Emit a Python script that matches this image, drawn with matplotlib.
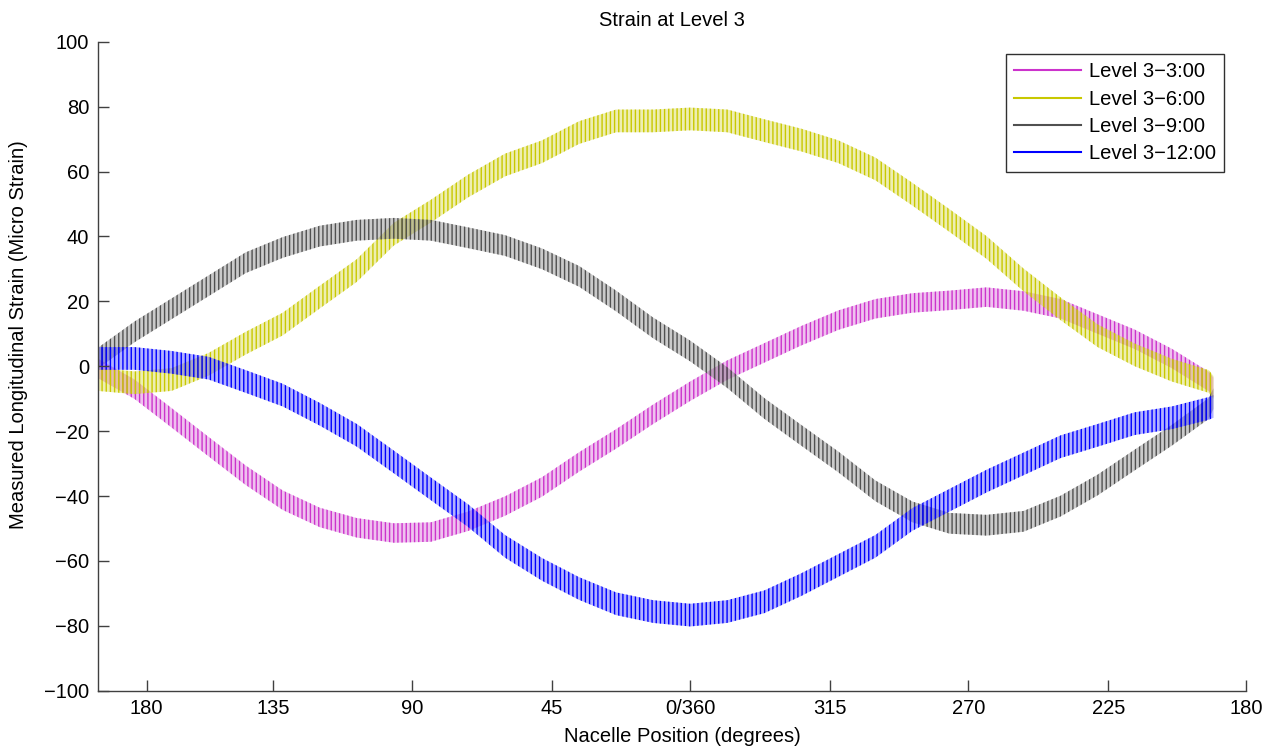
import numpy as np
import matplotlib
matplotlib.use('Agg')
import matplotlib.pyplot as plt
from matplotlib.lines import Line2D

plt.rcParams['font.family'] = ['Liberation Sans', 'DejaVu Sans']
plt.rcParams['hatch.linewidth'] = 1.0

# Rotation travelled since start of the run (deg), one reading every 12 deg
rot = [0, 12, 24, 36, 48, 60, 72, 84, 96, 108, 120, 132, 144, 156, 168, 180,
       192, 204, 216, 228, 240, 252, 264, 276, 288, 300, 312, 324, 336, 348, 360, 361.5]

# Mean strain of each gauge (micro strain)
level_3_00 = [-0.6, -7.1, -15.9, -24.8, -33.6, -41.3, -46.6, -49.8, -51.4, -51.1,
              -47.8, -43.1, -37.2, -29.5, -22.4, -14.8, -7.7, -1.2, 4.1, 9.4,
              14.2, 17.7, 19.5, 20.3, 21.3, 20.1, 17.7, 13.0, 8.3, 2.4, -4.7, -6.5]
level_6_00 = [-4.1, -5.1, -4.1, 0.6, 7.1, 13.0, 21.3, 29.5, 40.7, 47.8,
              55.5, 62.0, 66.1, 72.0, 75.6, 75.6, 76.2, 75.6, 72.6, 69.7,
              66.1, 60.8, 53.0, 44.9, 36.6, 26.6, 17.7, 9.4, 3.5, -1.2, -4.7, -6.5]
level_9_00 = [2.4, 10.6, 17.7, 24.8, 31.9, 36.6, 40.1, 41.9, 42.5, 41.9,
              39.6, 37.2, 33.1, 27.7, 20.1, 11.8, 4.7, -3.5, -13.0, -21.3,
              -29.5, -38.4, -44.9, -48.4, -49.0, -47.8, -43.1, -36.6, -28.9, -21.3, -13.0, -10.0]
level_12_00 = [2.4, 2.4, 1.2, -0.6, -4.7, -8.9, -14.8, -21.3, -29.5, -37.8,
               -46.0, -55.5, -62.6, -68.5, -73.2, -75.6, -76.7, -75.6, -72.6, -67.3,
               -61.4, -55.5, -47.2, -41.3, -35.4, -30.1, -24.8, -21.3, -17.7, -15.9, -13.0, -12.4]

# half peak-to-peak of the ripple on each signal
ripple = [3.0, 3.5, 3.2, 3.5]

labels = ['Level 3\u22123:00', 'Level 3\u22126:00', 'Level 3\u22129:00', 'Level 3\u221212:00']
colors = ['#cc33cc', '#c8c800', '#505050', '#0000ff']

# where the nacelle passes each heading
tick_pos = [15.9, 56.8, 101.8, 147.2, 192.0, 237.3, 282.1, 327.5, 372.0]
tick_lab = ['180', '135', '90', '45', '0/360', '315', '270', '225', '180']

fs = 14.5

fig = plt.figure(figsize=(12.75, 7.49), dpi=100)
ax = fig.add_axes([0.0765, 0.0778, 0.9006, 0.8665])

x = np.array(rot)
for serie, hw, col in zip([level_3_00, level_6_00, level_9_00, level_12_00], ripple, colors):
    s = np.array(serie)
    # ripple band: light fill with dense vertical strokes in the line colour
    with plt.rc_context({'hatch.color': col}):
        ax.fill_between(x, s - hw, s + hw, facecolor=matplotlib.colors.to_rgba(col, 0.3),
                        edgecolor=col, hatch='||||', linewidth=0)

ax.set_xlim(0, 372)
ax.set_ylim(-100, 100)
ax.set_xticks(tick_pos)
ax.set_xticklabels(tick_lab)
ax.set_yticks(np.arange(-100, 101, 20))

for side in ['top', 'right']:
    ax.spines[side].set_visible(False)
for side in ['left', 'bottom']:
    ax.spines[side].set_color('#404040')
    ax.spines[side].set_linewidth(1.0)
ax.tick_params(direction='in', length=8, width=1, color='#404040', labelsize=fs, pad=6)

ax.set_xlabel('Nacelle Position (degrees)', fontsize=fs)
ax.xaxis.set_label_coords(0.509, -0.056)
ax.set_ylabel('Measured Longitudinal Strain (Micro Strain)', fontsize=fs)
ax.yaxis.set_label_coords(-0.069, 0.548)
ax.yaxis.label.set_va('center')
ax.text(0.5, 1.033, 'Strain at Level 3', transform=ax.transAxes,
        ha='center', va='center', fontsize=fs)

handles = [Line2D([], [], color=c, linewidth=1.5) for c in colors]
leg = ax.legend(handles, labels, loc='upper right', bbox_to_anchor=(0.981, 0.981),
                fontsize=fs, fancybox=False, framealpha=1, edgecolor='#303030',
                handlelength=3.3, labelspacing=0.42, borderpad=0.4, handletextpad=0.4,
                borderaxespad=0)
leg.get_frame().set_linewidth(1.0)

fig.savefig('out.png', dpi=100)
